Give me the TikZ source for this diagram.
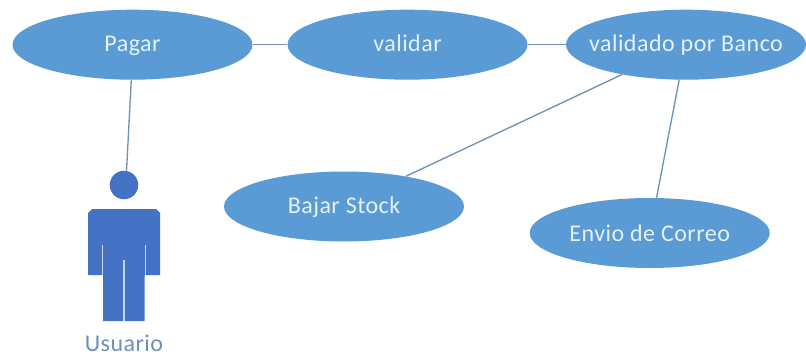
\documentclass[tikz,border=0pt]{standalone}
\usepackage{fontspec}
\setmainfont[LetterSpace=2]{Carlito}
\usetikzlibrary{shapes.geometric}
\definecolor{ell}{HTML}{5B9BD5}
\definecolor{man}{HTML}{4472C4}
\definecolor{lin}{HTML}{6F93B5}
\definecolor{lab}{HTML}{6F8FB8}
\definecolor{txt}{HTML}{E4F1FB}
\newcommand{\nowidth}[1]{\makebox[0pt][c]{#1}}
\tikzset{
  uc/.style={ellipse,fill=ell,draw=none,inner sep=0pt,text=txt,font=\fontsize{18pt}{20pt}\selectfont,minimum width=180pt,minimum height=52.5pt,text height=13pt,text depth=2.5pt},
  conn/.style={draw=lin,line width=1pt},
  manfill/.style={fill=man,draw=none},
  slit/.style={draw=white!70!man,line width=0.7pt}
}
\begin{document}
\begin{tikzpicture}[x=0.75pt,y=-0.75pt]
\useasboundingbox (0,0) rectangle (806,356);
\fill[white] (0,0) rectangle (806,356);
\node[uc] (pagar) at (132.5,44.7) {\nowidth{Pagar}};
\node[uc] (validar) at (407.5,44.7) {\nowidth{validar}};
\node[uc] (banco) at (686,44.7) {\nowidth{validado por Banco}};
\node[uc,text height=12.25pt] (bajar) at (344,206.5) {\nowidth{Bajar Stock}};
\node[uc,text height=15.5pt] (envio) at (649.7,233) {\nowidth{Envio de Correo}};
\node[circle,manfill,minimum size=21.4pt,inner sep=0pt] (head) at (124,185) {};
\fill[man] (92,209) -- (156,209) -- (160,213) -- (160,275) -- (144.5,275) -- (144.5,321) -- (103,321) -- (103,275) -- (88,275) -- (88,213) -- cycle;
\draw[slit] (102.5,245) -- (102.5,275);
\draw[slit] (145.5,245) -- (145.5,275);
\draw[slit,line width=0.9pt] (124,260) -- (124,321);
\node[text=lab,font=\fontsize{18pt}{20pt}\selectfont,inner sep=0pt,anchor=base] (usuario) at (124,351.7) {Usuario};
\draw[conn] (pagar.-92) -- (head.80);
\draw[conn] (pagar) -- (validar);
\draw[conn] (validar) -- (banco);
\draw[conn] (banco.205.5) -- (bajar.26);
\draw[conn] (banco.-101) -- (envio.79);
\end{tikzpicture}
\end{document}
